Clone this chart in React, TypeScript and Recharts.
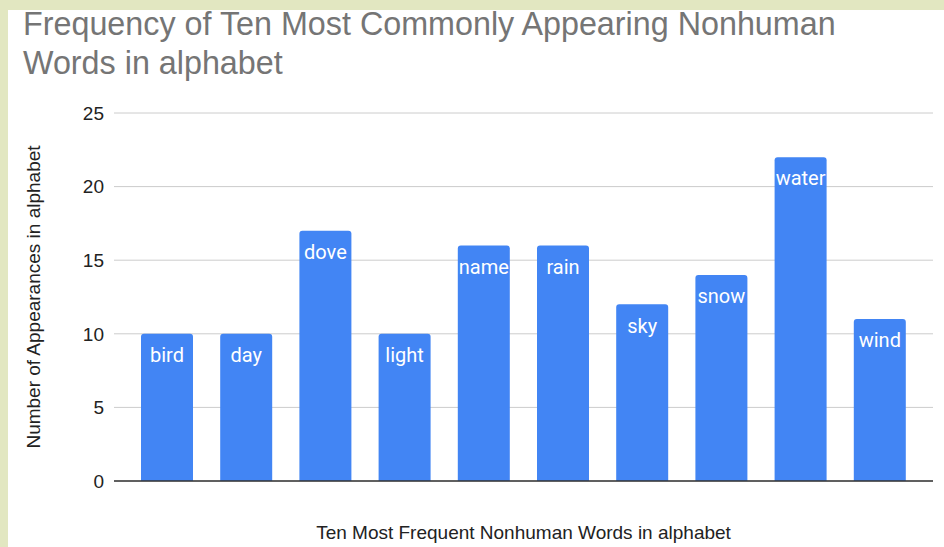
import { BarChart, Bar, XAxis, YAxis, CartesianGrid, LabelList } from "recharts"

const words = ["bird", "day", "dove", "light", "name", "rain", "sky", "snow", "water", "wind"]
const counts = [10, 10, 17, 10, 16, 16, 12, 14, 22, 11]
const yTicks = [0, 5, 10, 15, 20, 25]

const chartData = words.map((word, i) => ({ word, count: counts[i] }))

const sans = "'Liberation Sans', Arial, sans-serif"

export default function App() {
  return (
    <div
      style={{
        position: "absolute",
        left: 0,
        top: 0,
        width: 944,
        height: 547,
        background: "#e2e7c1",
        overflow: "hidden",
      }}
    >
      <div
        style={{
          position: "absolute",
          left: 8,
          top: 10,
          width: 936,
          height: 537,
          background: "#ffffff",
        }}
      >
        <div
          style={{
            position: "absolute",
            left: 15,
            top: -5,
            fontFamily: sans,
            fontSize: 32.3,
            lineHeight: "39px",
            color: "#757575",
            whiteSpace: "nowrap",
          }}
        >
          Frequency of Ten Most Commonly Appearing Nonhuman
          <br />
          Words in alphabet
        </div>
        <BarChart
          width={936}
          height={537}
          data={chartData}
          margin={{ top: 103, right: 11, bottom: 0, left: 0 }}
          style={{ position: "absolute", left: 0, top: 0 }}
        >
          <CartesianGrid vertical={false} stroke="#cccccc" />
          <XAxis
            dataKey="word"
            tick={false}
            tickLine={false}
            height={66}
            padding={{ left: 13, right: 14 }}
            axisLine={{ stroke: "#333333", strokeWidth: 1.5 }}
            label={{
              value: "Ten Most Frequent Nonhuman Words in alphabet",
              position: "insideBottom",
              offset: 8,
              style: { fontFamily: sans, fontSize: 19, fill: "#222222" },
            }}
          />
          <YAxis
            width={106}
            domain={[0, 25]}
            ticks={yTicks}
            axisLine={false}
            tickLine={false}
            tickSize={0}
            tickMargin={10}
            tick={{ fontFamily: sans, fontSize: 19, fill: "#222222" }}
            label={{
              value: "Number of Appearances in alphabet",
              angle: -90,
              position: "insideLeft",
              offset: 25,
              style: { textAnchor: "middle", fontFamily: sans, fontSize: 19, fill: "#222222" },
            }}
          />
          <Bar dataKey="count" fill="#4285f4" barSize={52} radius={[3, 3, 0, 0]} isAnimationActive={false}>
            <LabelList
              dataKey="word"
              position="insideTop"
              offset={14}
              style={{ fontFamily: "Roboto, sans-serif", fontSize: 20, fill: "#ffffff" }}
            />
          </Bar>
        </BarChart>
      </div>
    </div>
  )
}
